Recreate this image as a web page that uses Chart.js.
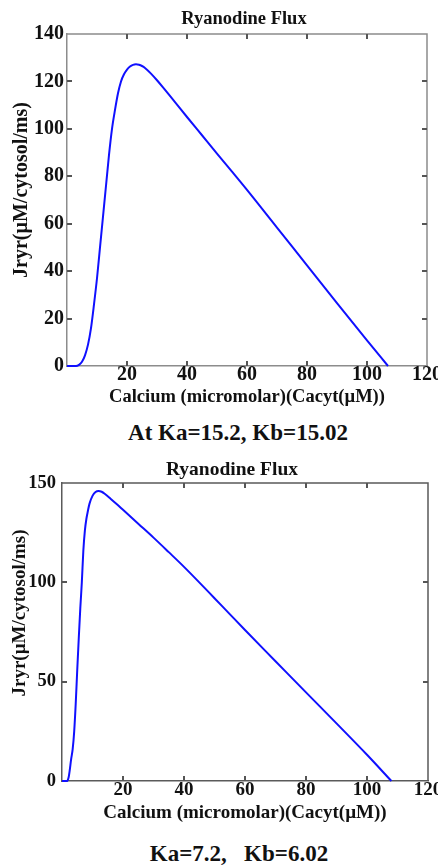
<!DOCTYPE html>
<html>
<head>
<meta charset="utf-8">
<script src="https://cdn.jsdelivr.net/npm/chart.js@4"></script>
<style>
    body { margin: 0; background: #fff; width: 438px; height: 867px; position: relative; overflow: hidden; font-family: 'Liberation Serif', 'Times New Roman', serif; }
    .box { position: absolute; left: 0; width: 438px; }
    .cap { position: absolute; font-weight: bold; font-size: 23px; white-space: pre; transform: translate(-50%, -50%); color: #111; }
</style>
</head>
<body>
<div class="box" style="top:0;height:412px"><canvas id="chart1"></canvas></div>
<div class="cap" style="left:238px;top:433px">At Ka=15.2, Kb=15.02</div>
<div class="box" style="top:450px;height:380px"><canvas id="chart2"></canvas></div>
<div class="cap" style="left:239px;top:854px">Ka=7.2,   Kb=6.02</div>
<script>
// top chart: Ka=15.2, Kb=15.02
const calcium1 = [0, 2, 3, 4, 5, 6, 7, 8, 9, 10, 11, 12, 13, 14, 15, 16, 17, 18, 19, 20, 21, 22, 23, 24, 25, 26, 28, 30, 32, 36, 40, 45, 50, 55, 60, 70, 80, 90, 100, 107];
const flux1 = [0, 0, 0, 0.5, 1.8, 4.5, 9, 16, 26, 37, 50, 63, 76, 89, 100, 108, 115, 120, 123, 125, 126.3, 127, 127.2, 127, 126.5, 125.7, 123.3, 120.5, 117.5, 111.3, 105, 97.3, 89.6, 82, 74.3, 58.4, 42.4, 26.5, 10.8, 0];
// bottom chart: Ka=7.2, Kb=6.02
const calcium2 = [0, 1, 1.7, 2.2, 2.5, 3, 3.5, 4, 4.5, 5, 5.5, 6, 6.5, 7, 7.5, 8, 8.5, 9, 10, 11, 12, 13, 14, 16, 18, 20, 25, 30, 35, 40, 45, 50, 55, 60, 70, 80, 90, 100, 108];
const flux2 = [0, 0, 0, 2, 5, 11, 16, 25, 39, 56, 72, 87, 100, 116, 126, 132, 136, 139.5, 143.5, 145.5, 146, 145.6, 144.6, 142, 139.3, 136.5, 129.5, 122.5, 115.2, 107.8, 100, 92, 84, 76, 60.3, 44.6, 29, 13.2, 0];

// tick positions
const xTicks = [20, 40, 60, 80, 100];
const yTicks1 = [20, 40, 60, 80, 100, 120];
const yTicks2 = [50, 100];

const title = 'Ryanodine Flux';
const xTitle = 'Calcium (micromolar)(Cacyt(\u00b5M))';
const yTitle = 'Jryr(\u00b5M/cytosol/ms)';

const fontFamily = "'Liberation Serif', 'Times New Roman', serif";
const ink = '#111';

// box round the plot with inward tick marks, the title and the rotated y label
const framePlugin = {
    id: 'frame',
    afterDraw(chart, args, opts) {
        const { ctx, chartArea: a } = chart;
        const x = chart.scales.x, y = chart.scales.y;
        const len = opts.tickLen;
        ctx.save();
        ctx.strokeStyle = opts.color;
        ctx.lineWidth = 1.5;
        ctx.beginPath();
        ctx.moveTo(a.left, a.top);
        ctx.lineTo(a.right, a.top);
        ctx.lineTo(a.right, a.bottom);
        ctx.stroke();
        // tick marks pointing into the plot
        ctx.fillStyle = opts.tickColor;
        xTicks.forEach(v => {
            const px = Math.round(x.getPixelForValue(v));
            ctx.fillRect(px - 1, a.top, 2, len);
            ctx.fillRect(px - 1, a.bottom - len, 2, len);
        });
        opts.yTicks.forEach(v => {
            const py = Math.round(y.getPixelForValue(v));
            ctx.fillRect(a.left, py - 1, len, 2);
            ctx.fillRect(a.right - len, py - 1, len, 2);
        });
        ctx.fillStyle = ink;
        ctx.textAlign = 'center';
        ctx.textBaseline = 'middle';
        ctx.font = 'bold ' + opts.titleSize + 'px ' + fontFamily;
        ctx.fillText(title, opts.titleX, opts.titleY);
        ctx.font = 'bold ' + opts.labelSize + 'px ' + fontFamily;
        ctx.translate(opts.labelX, opts.labelY);
        ctx.rotate(-Math.PI / 2);
        ctx.fillText(yTitle, 0, 0);
        ctx.restore();
    }
};

function makeChart(id, xs, ys, cfg) {
    const points = xs.map((x, i) => ({ x, y: ys[i] }));
    return new Chart(document.getElementById(id), {
        type: 'line',
        data: { datasets: [{ data: points, borderColor: '#1010ff', borderWidth: 2, pointRadius: 0, cubicInterpolationMode: 'monotone', fill: false, clip: 3 }] },
        plugins: [framePlugin],
        options: {
            responsive: true,
            maintainAspectRatio: false,
            animation: false,
            layout: { padding: { left: 0, right: cfg.padRight, top: cfg.padTop, bottom: 0 } },
            plugins: {
                legend: { display: false },
                tooltip: { enabled: false },
                title: { display: false },
                frame: { color: cfg.frameColor, tickColor: '#555', tickLen: 5, yTicks: cfg.yTicks, titleSize: cfg.titleSize, titleX: cfg.titleX, titleY: cfg.titleY, labelSize: cfg.yLabelSize, labelX: cfg.yLabelX, labelY: cfg.yLabelY }
            },
            scales: {
                x: {
                    type: 'linear', min: 0, max: 120,
                    grid: { display: false, drawTicks: false },
                    border: { display: true, color: cfg.frameColor, width: 1.5 },
                    ticks: { stepSize: 20, padding: cfg.xTickPad, color: ink, maxRotation: 0, font: { family: fontFamily, size: cfg.xTickSize, weight: 'bold', lineHeight: 1 }, callback: v => v === 0 ? '' : v },
                    title: { display: true, text: xTitle, color: ink, font: { family: fontFamily, size: cfg.xTitleSize, weight: 'bold' }, padding: { top: 0, bottom: cfg.xTitlePadBottom } },
                    afterFit: s => { s.height = cfg.xAxisHeight; s.paddingLeft = 0; s.paddingRight = 0; }
                },
                y: {
                    min: 0, max: cfg.yMax,
                    grid: { display: false, drawTicks: false },
                    border: { display: true, color: cfg.frameColor, width: 1.5 },
                    ticks: { stepSize: cfg.yStep, padding: cfg.yTickPad, color: ink, font: { family: fontFamily, size: cfg.yTickSize, weight: 'bold' } },
                    afterFit: s => { s.width = cfg.yAxisWidth; s.paddingTop = 0; s.paddingBottom = 0; }
                }
            }
        }
    });
}

makeChart('chart1', calcium1, flux1, {
    padRight: 11, padTop: 34, titleSize: 18.5, titleX: 244, titleY: 19,
    frameColor: '#8c8c8c', yLabelSize: 20, yLabelX: 22, yLabelY: 190, yTicks: yTicks1,
    xTickSize: 20, xTickPad: -1, xTitleSize: 18.5, xTitlePadBottom: 4, xAxisHeight: 46,
    yMax: 140, yStep: 20, yTickSize: 20, yTickPad: 3, yAxisWidth: 67
});

makeChart('chart2', calcium2, flux2, {
    padRight: 10, padTop: 33, titleSize: 19.5, titleX: 232, titleY: 20,
    frameColor: '#5a5a5a', yLabelSize: 19, yLabelX: 20, yLabelY: 163, yTicks: yTicks2,
    xTickSize: 19, xTickPad: -0.5, xTitleSize: 19, xTitlePadBottom: 5.6, xAxisHeight: 49,
    yMax: 150, yStep: 50, yTickSize: 18.5, yTickPad: 6, yAxisWidth: 62
});
</script>
</body>
</html>
